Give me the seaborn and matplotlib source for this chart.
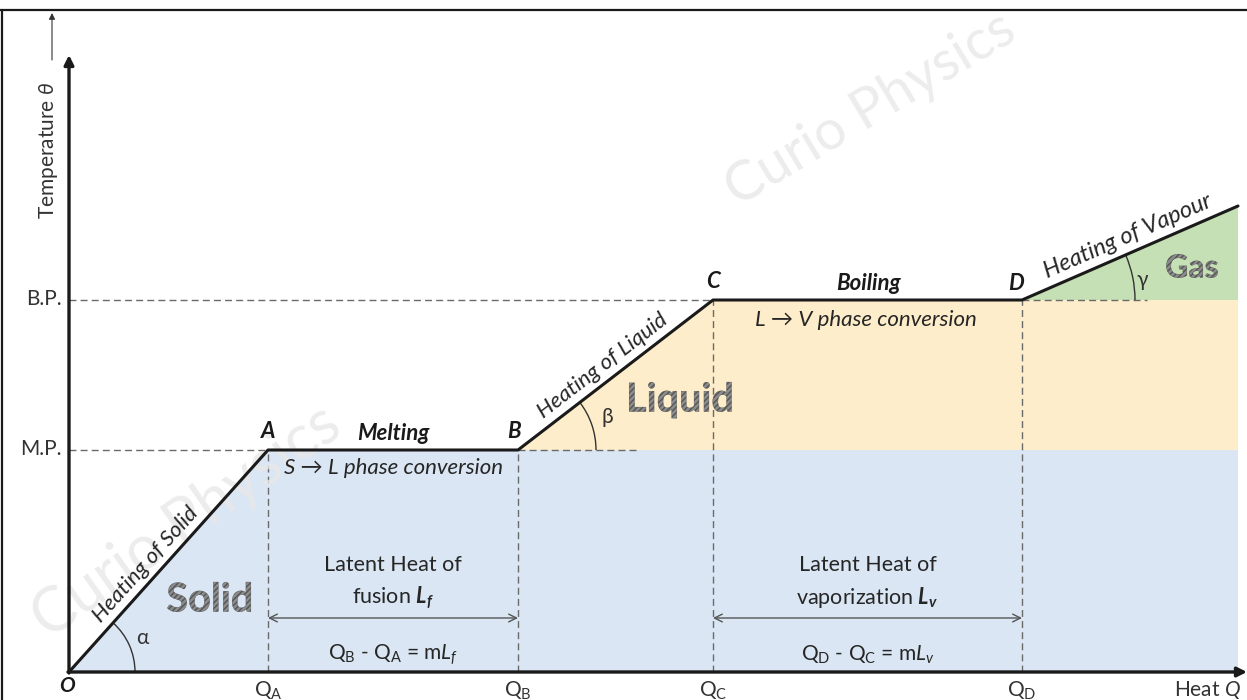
import numpy as np
import matplotlib
matplotlib.use("Agg")
import matplotlib.pyplot as plt
import matplotlib.patheffects as pe
from matplotlib.patches import Arc
import seaborn as sns

# heating curve corner points (heat, temperature)
point_names = ["O", "A", "B", "C", "D"]
heat = [0, 199, 449, 644, 953, 1169]
temp = [0, 222, 222, 372, 372, 466]
melting_point = 222
boiling_point = 372
heat_ticks = ["Q$_\\mathregular{A}$", "Q$_\\mathregular{B}$", "Q$_\\mathregular{C}$", "Q$_\\mathregular{D}$"]
phase_names = ["Solid", "Liquid", "Gas"]
phase_colors = ["#dae6f3", "#fdedca", "#c5e0b4"]

sns.set_theme(style="white")
plt.rcParams["font.family"] = ["Lato", "DejaVu Sans"]
plt.rcParams["mathtext.fontset"] = "custom"
plt.rcParams["mathtext.rm"] = "Lato"
plt.rcParams["mathtext.it"] = "Lato:italic"
plt.rcParams["mathtext.bf"] = "Lato:bold"
plt.rcParams["mathtext.bfit"] = "Lato:bold:italic"

fig = plt.figure(figsize=(12.47, 7.0), dpi=100)
ax = fig.add_axes([0, 0, 1, 1])
ax.set_xlim(-69, 1178)
ax.set_ylim(-28, 672)
ax.axis("off")

O, A, B, C, D, E = list(zip(heat, temp))
qa, qb, qc, qd, qe = heat[1:]
ink = "#1a1a1a"
txt = "#262626"
dash = "#6a6a6a"

# phase regions
ax.fill([0, qa, qe, qe], [0, melting_point, melting_point, 0], color=phase_colors[0], lw=0, zorder=1)
ax.fill([qb, qc, qe, qe], [melting_point, boiling_point, boiling_point, melting_point],
        color=phase_colors[1], lw=0, zorder=1)
ax.fill([qd, qe, qe], [boiling_point, temp[-1], boiling_point], color=phase_colors[2], lw=0, zorder=1)

# guide lines
kw = dict(color=dash, lw=1.0, ls=(0, (5, 3)), zorder=2)
ax.plot([0, qa], [melting_point] * 2, **kw)
ax.plot([qb, qb + 119], [melting_point] * 2, **kw)
ax.plot([0, qc], [boiling_point] * 2, **kw)
ax.plot([qd, qd + 125], [boiling_point] * 2, **kw)
for q, t in zip([qa, qb, qc, qd], [melting_point, melting_point, boiling_point, boiling_point]):
    ax.plot([q, q], [0, t], **kw)

# the heating curve itself
sns.lineplot(x=heat, y=temp, sort=False, color=ink, lw=2.2, ax=ax, zorder=4)

# axes with arrows
ax.annotate("", xy=(0, 617), xytext=(0, -1),
            arrowprops=dict(arrowstyle="-|>", color=ink, lw=2.4, mutation_scale=14, shrinkA=0, shrinkB=0), zorder=5)
ax.annotate("", xy=(1178, 0), xytext=(-1, 0),
            arrowprops=dict(arrowstyle="-|>", color=ink, lw=2.4, mutation_scale=14, shrinkA=0, shrinkB=0), zorder=5)

# picture frame
ax.plot([-69, 1178], [662, 662], color=ink, lw=1.6, clip_on=False)
ax.plot([-67, -67], [-28, 662], color=ink, lw=1.6, clip_on=False)

# axis labels
ax.text(-21, 522, "Temperature $\\theta$", rotation=90, ha="center", va="center", fontsize=15, color="#333333")
ax.annotate("", xy=(-17, 659), xytext=(-17, 612),
            arrowprops=dict(arrowstyle="-|>", color="#333333", lw=0.8, mutation_scale=9, shrinkA=0, shrinkB=0))
ax.text(1172, -18, "Heat $Q$", ha="right", va="center", fontsize=15, color="#333333")
ax.text(-2, -14, "O", ha="center", va="center", fontsize=15, fontweight="bold", fontstyle="italic", color=ink)
for q, lab in zip([qa, qb, qc, qd], heat_ticks):
    ax.text(q, -19, lab, ha="center", va="center", fontsize=15, color="#333333")
ax.text(-7, melting_point + 1, "M.P.", ha="right", va="center", fontsize=15, color="#333333")
ax.text(-7, boiling_point + 1, "B.P.", ha="right", va="center", fontsize=15, color="#333333")

# point letters and plateau labels
bi = dict(fontsize=16, fontweight="bold", fontstyle="italic", color=ink, ha="center", va="center")
ax.text(qa, melting_point + 18, "A", **bi)
ax.text(qb - 4, melting_point + 18, "B", **bi)
ax.text(qc, boiling_point + 18, "C", **bi)
ax.text(qd - 6, boiling_point + 16, "D", **bi)
ax.text((qa + qb) / 2, melting_point + 17, "Melting", **bi)
ax.text(799, boiling_point + 16, "Boiling", **bi)
ax.text((qa + qb) / 2, melting_point - 18, "S \u2192 L phase conversion", ha="center", va="center",
        fontsize=16, fontstyle="italic", color=txt)
ax.text(797, boiling_point - 20, "L \u2192 V phase conversion", ha="center", va="center",
        fontsize=16, fontstyle="italic", color=txt)


def slope_label(p0, p1, frac, off, text, fs=16):
    dx, dy = p1[0] - p0[0], p1[1] - p0[1]
    ang = np.arctan2(dy, dx)
    x = p0[0] + frac * dx - off * np.sin(ang)
    y = p0[1] + frac * dy + off * np.cos(ang)
    ax.text(x, y, text, rotation=np.degrees(ang), rotation_mode="anchor", ha="center", va="center",
            fontsize=fs, fontstyle="italic", color=txt)
    return np.degrees(ang)


a1 = slope_label(O, A, 0.44, 15, "Heating of Solid")
a2 = slope_label(B, C, 0.48, 15, "Heating of Liquid")
a3 = slope_label(D, E, 0.52, 16, "Heating of Vapour", fs=17)

# angle arcs
for p, r, ang, sym, pos in [(O, 66, a1, "\u03b1", (73, 34)), (B, 78, a2, "\u03b2", (538, 255)),
                            (D, 113, a3, "\u03b3", (1073, 392))]:
    ax.add_patch(Arc(p, 2 * r, 2 * r, theta1=0, theta2=ang, color="#333333", lw=1.0, zorder=3))
    ax.text(pos[0], pos[1], sym, ha="center", va="center", fontsize=15, color="#333333")

# latent heat brackets
for q0, q1, l1, l2, eq in [
    (qa, qb, "Latent Heat of", "fusion $\\mathbfit{L_f}$",
     "Q$_\\mathregular{B}$ - Q$_\\mathregular{A}$ = m$L_f$"),
    (qc, qd, "Latent Heat of", "vaporization $\\mathbfit{L_v}$",
     "Q$_\\mathregular{D}$ - Q$_\\mathregular{C}$ = m$L_v$"),
]:
    mid = (q0 + q1) / 2
    ax.annotate("", xy=(q0, 54), xytext=(q1, 54),
                arrowprops=dict(arrowstyle="<->", color="#555555", lw=1.0, mutation_scale=14, shrinkA=0, shrinkB=0))
    ax.text(mid, 107, l1, ha="center", va="center", fontsize=15.5, color=txt)
    ax.text(mid, 74, l2, ha="center", va="center", fontsize=15.5, color=txt)
    ax.text(mid, 17, eq, ha="center", va="center", fontsize=15, color=txt)

# hatched phase names
hatch_fx = [pe.PathPatchEffect(facecolor="#8c8c8c", edgecolor="#555555", hatch="//////", lw=0.3)]
for name, (x, y), fs in zip(phase_names, [(141, 72), (611, 272), (1123, 404)], [28.5, 28.5, 23]):
    ax.text(x, y, name, ha="center", va="center", fontsize=fs, fontweight="bold", color="#7a7a7a",
            path_effects=hatch_fx, zorder=3)

# watermarks
for (x, y), rot, fs in [((801, 562), 31, 40), ((118, 150), 35, 44)]:
    ax.text(x, y, "Curio Physics", rotation=rot, ha="center", va="center", fontsize=fs,
            color="#e8e8e8", alpha=0.8, zorder=2)

fig.savefig("out.png", dpi=100)
